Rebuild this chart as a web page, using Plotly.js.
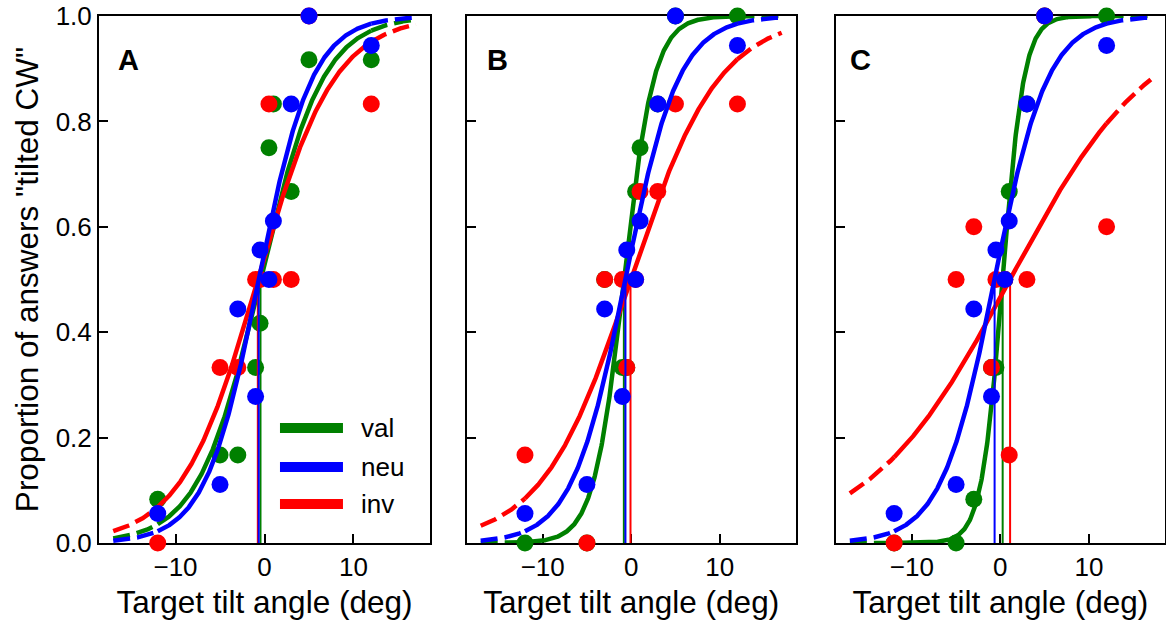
<!DOCTYPE html>
<html>
<head>
<meta charset="utf-8">
<script src="https://cdn.plot.ly/plotly-3.0.1.min.js"></script>
<style>html,body{margin:0;padding:0;background:#fff;}#chart{width:1166px;height:621px;}</style>
</head>
<body>
<div id="chart"></div>
<script>
// ---- data ----
const tiltLevels = [-12, -5, -3, -1, -0.5, 0.5, 1, 3, 5, 12];
const conditionNames = ['val', 'neu', 'inv'];
const panelLabels = ['A', 'B', 'C'];
const yTickVals = [0, 0.2, 0.4, 0.6, 0.8, 1.0];
const xTickVals = [-10, 0, 10];

// proportion of "tilted CW" answers at each tilt level
const neuProp = [0.056, 0.111, 0.444, 0.278, 0.556, 0.500, 0.611, 0.833, 1.000, 0.944];
const valPropA = [0.083, 0.167, 0.167, 0.333, 0.417, 0.750, 0.833, 0.667, 0.917, 0.917];
const invPropA = [0.000, 0.333, 0.333, 0.500, 0.500, 0.833, 0.500, 0.500, 1.000, 0.833];
const valPropB = [0.000, 0.000, 0.500, 0.333, 0.333, 0.667, 0.750, 0.833, 1.000, 1.000];
const invPropB = [0.167, 0.000, 0.500, 0.500, 0.333, 0.500, 0.667, 0.667, 0.833, 0.833];
const valPropC = [0.000, 0.000, 0.083, 0.333, 0.333, 0.500, 0.667, 0.833, 1.000, 1.000];
const invPropC = [0.000, 0.500, 0.600, 0.333, 0.500, 0.500, 0.167, 0.500, 1.000, 0.600];

// fitted logistic psychometric functions: PSE (deg) and spread (deg), per panel A, B, C
const valPSE = [-0.45, -0.83, 0.26];
const valSpread = [3.5, 1.7, 1.2];
const neuPSE = [-0.65, -0.65, -0.65];
const neuSpread = [3.0, 3.0, 3.0];
const invPSE = [-0.75, -0.08, 1.10];
const invSpread = [4.3, 5.0, 8.0];

// fitted range (solid) and extrapolated range (dashed)
const dataRange = [-12, 12];
const extrapRange = [-17, 17];

// ---- build figure ----
const colors = {val: '#008000', neu: '#0000ff', inv: '#ff0000'};
const valProps = [valPropA, valPropB, valPropC];
const invProps = [invPropA, invPropB, invPropC];

function logistic(x, mu, s) { return 1 / (1 + Math.exp(-(x - mu) / s)); }
function sample(a, b) {
  const xs = []; const n = Math.round((b - a) / 0.05);
  for (let i = 0; i <= n; i++) xs.push(a + (b - a) * i / n);
  return xs;
}

const traces = [];
const domains = [[0, 0.3105], [0.3448, 0.6537], [0.6911, 1.0]];
for (let p = 0; p < 3; p++) {
  const xa = p === 0 ? 'x' : 'x' + (p + 1);
  const ya = p === 0 ? 'y' : 'y' + (p + 1);
  const conds = [
    {name: 'val', props: valProps[p], mu: valPSE[p], s: valSpread[p]},
    {name: 'inv', props: invProps[p], mu: invPSE[p], s: invSpread[p]},
    {name: 'neu', props: neuProp, mu: neuPSE[p], s: neuSpread[p]}
  ];
  conds.forEach(c => {
    const col = colors[c.name];
    traces.push({x: tiltLevels, y: c.props, xaxis: xa, yaxis: ya, type: 'scatter', mode: 'markers',
      marker: {color: col, size: 17, line: {width: 0}}, cliponaxis: false, showlegend: false, hoverinfo: 'skip'});
    const xs = sample(dataRange[0], dataRange[1]);
    traces.push({x: xs, y: xs.map(v => logistic(v, c.mu, c.s)), xaxis: xa, yaxis: ya, type: 'scatter', mode: 'lines',
      line: {color: col, width: 4.5}, showlegend: false, hoverinfo: 'skip'});
    const xl = sample(extrapRange[0], dataRange[0]);
    const xr = sample(dataRange[1], extrapRange[1]);
    [xl, xr].forEach(seg => {
      traces.push({x: seg, y: seg.map(v => logistic(v, c.mu, c.s)), xaxis: xa, yaxis: ya, type: 'scatter', mode: 'lines',
        line: {color: col, width: 4.5, dash: '17px,7px'}, showlegend: false, hoverinfo: 'skip'});
    });
    traces.push({x: [c.mu, c.mu], y: [0, logistic(c.mu, c.mu, c.s)], xaxis: xa, yaxis: ya, type: 'scatter', mode: 'lines',
      line: {color: col, width: 2}, showlegend: false, hoverinfo: 'skip'});
  });
}

const font = 'Liberation Sans, Arial, Helvetica, sans-serif';
const layout = {
  width: 1166, height: 621,
  margin: {l: 99, r: 1, t: 16, b: 78},
  paper_bgcolor: '#fff', plot_bgcolor: '#fff',
  font: {family: font, color: '#000', size: 26},
  showlegend: false,
  shapes: [], annotations: []
};
for (let p = 0; p < 3; p++) {
  const sx = p === 0 ? '' : String(p + 1);
  layout['xaxis' + sx] = {
    domain: domains[p], anchor: 'y' + sx, range: [-18.6, 18.6],
    tickvals: xTickVals, ticks: 'inside', ticklen: 9, tickwidth: 2, tickcolor: '#000',
    showline: true, mirror: true, linecolor: '#000', linewidth: 2, showgrid: false, zeroline: false,
    layer: 'below traces', tickfont: {size: 26, family: font},
    title: {text: 'Target tilt angle (deg)', font: {size: 31.5, family: font}, standoff: 10},
    automargin: false
  };
  layout['yaxis' + sx] = {
    domain: [0, 1], anchor: 'x' + sx, range: [0, 1],
    tickvals: yTickVals, tickformat: '.1f', ticks: 'inside', ticklen: 9, tickwidth: 2, tickcolor: '#000',
    showticklabels: p === 0,
    showline: true, mirror: true, linecolor: '#000', linewidth: 2, showgrid: false, zeroline: false,
    layer: 'below traces', tickfont: {size: 26, family: font},
    title: p === 0 ? {text: 'Proportion of answers "tilted CW"', font: {size: 31.5, family: font}, standoff: 8} : {text: ''},
    automargin: false
  };
}
const letterPos = [0.089, 0.093, 0.074];
for (let p = 0; p < 3; p++) {
  const sx = p === 0 ? '' : String(p + 1);
  layout.annotations.push({text: '<b>' + panelLabels[p] + '</b>', xref: 'x' + sx + ' domain', yref: 'y' + sx + ' domain',
    x: letterPos[p], y: 0.917, xanchor: 'center', yanchor: 'middle', showarrow: false, font: {size: 29, family: font}});
}
// legend drawn inside panel A
const legendY = [0.218, 0.144, 0.074];
const legendOrder = ['val', 'neu', 'inv'];
legendOrder.forEach((nm, i) => {
  layout.shapes.push({type: 'line', xref: 'x', yref: 'y', x0: 1.74, x1: 8.82, y0: legendY[i], y1: legendY[i],
    line: {color: colors[nm], width: 10}});
  layout.annotations.push({text: nm, xref: 'x', yref: 'y', x: 10.6, y: legendY[i], xanchor: 'left', yanchor: 'middle',
    showarrow: false, font: {size: 26, family: font}});
});

Plotly.newPlot('chart', traces, layout, {displayModeBar: false, staticPlot: true});
</script>
</body>
</html>
